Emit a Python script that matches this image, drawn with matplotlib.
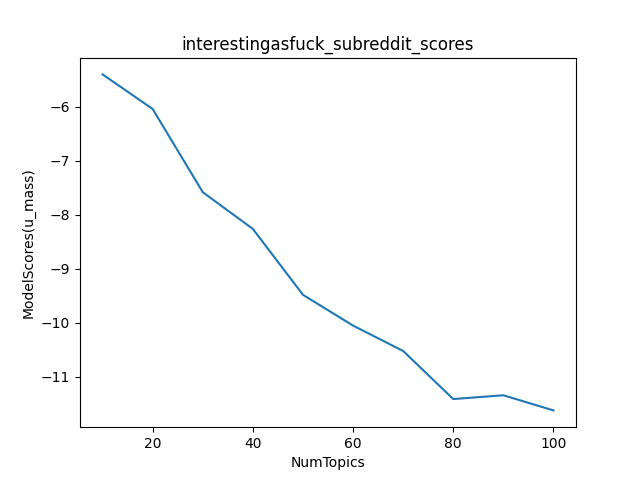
import matplotlib
matplotlib.use("Agg")
import matplotlib.pyplot as plt

# topic counts and the u_mass coherence score for each
num_topics = [10, 20, 30, 40, 50, 60, 70, 80, 90, 100]
model_scores = [-5.40, -6.04, -7.58, -8.26, -9.48, -10.05, -10.52, -11.41, -11.34, -11.62]

fig, ax = plt.subplots(figsize=(6.4, 4.8), dpi=100)
ax.plot(num_topics, model_scores)
ax.set_title("interestingasfuck_subreddit_scores")
ax.set_xlabel("NumTopics")
ax.set_ylabel("ModelScores(u_mass)")

fig.savefig("out.png")
